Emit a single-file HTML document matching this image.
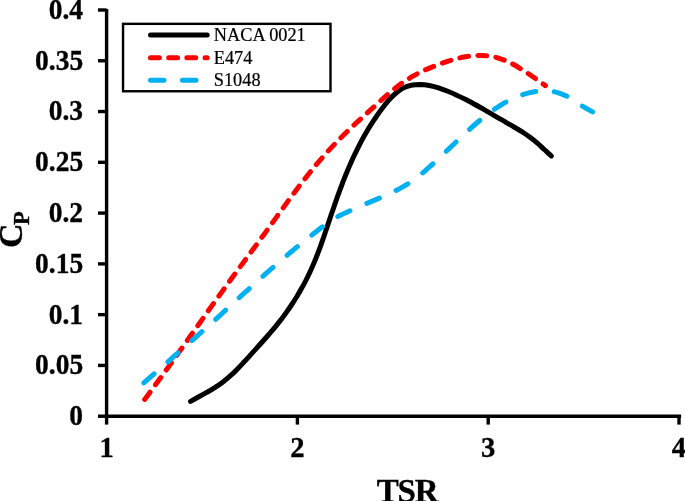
<!DOCTYPE html>
<html><head><meta charset="utf-8"><style>
html,body{margin:0;padding:0;background:#fff;}
body{width:685px;height:501px;overflow:hidden;}
svg{display:block;will-change:transform;}
text{font-family:"Liberation Serif",serif;fill:#000;}
.b text{font-weight:bold;stroke:#000;stroke-width:0.35px;}
</style></head><body>
<svg width="685" height="501" viewBox="0 0 685 501">
<rect width="685" height="501" fill="#fff"/>
<g stroke="#000" stroke-width="3.4" fill="none" stroke-linecap="butt">
<path d="M106.6 9V416.2H681.1" stroke-linejoin="miter"/>
<line x1="98" y1="416.20" x2="106.6" y2="416.20"/><line x1="98" y1="365.43" x2="106.6" y2="365.43"/><line x1="98" y1="314.65" x2="106.6" y2="314.65"/><line x1="98" y1="263.88" x2="106.6" y2="263.88"/><line x1="98" y1="213.10" x2="106.6" y2="213.10"/><line x1="98" y1="162.32" x2="106.6" y2="162.32"/><line x1="98" y1="111.55" x2="106.6" y2="111.55"/><line x1="98" y1="60.77" x2="106.6" y2="60.77"/><line x1="98" y1="10.00" x2="106.6" y2="10.00"/><line x1="106.60" y1="416.2" x2="106.60" y2="424.6"/><line x1="297.40" y1="416.2" x2="297.40" y2="424.6"/><line x1="488.20" y1="416.2" x2="488.20" y2="424.6"/><line x1="679.00" y1="416.2" x2="679.00" y2="424.6"/>
</g>
<g class="b" font-size="28.6"><text transform="translate(83.1,425.10) scale(0.96,1)" text-anchor="end">0</text><text transform="translate(83.1,374.32) scale(0.96,1)" text-anchor="end">0.05</text><text transform="translate(83.1,323.55) scale(0.96,1)" text-anchor="end">0.1</text><text transform="translate(83.1,272.77) scale(0.96,1)" text-anchor="end">0.15</text><text transform="translate(83.1,222.00) scale(0.96,1)" text-anchor="end">0.2</text><text transform="translate(83.1,171.22) scale(0.96,1)" text-anchor="end">0.25</text><text transform="translate(83.1,120.45) scale(0.96,1)" text-anchor="end">0.3</text><text transform="translate(83.1,69.67) scale(0.96,1)" text-anchor="end">0.35</text><text transform="translate(83.1,18.90) scale(0.96,1)" text-anchor="end">0.4</text><text x="106.60" y="456.8" text-anchor="middle">1</text><text x="297.40" y="456.8" text-anchor="middle">2</text><text x="488.20" y="456.8" text-anchor="middle">3</text><text x="679.00" y="456.8" text-anchor="middle">4</text></g>
<g class="b">
<text x="376.8" y="501.5" font-size="33" letter-spacing="-1.2">TSR</text>
<text transform="translate(22.3,248.0) rotate(-90)" font-size="34">C</text>
<text transform="translate(29.4,224.9) rotate(-90)" font-size="22.5">P</text>
</g>
<g fill="none" stroke-linecap="round" stroke-linejoin="round" stroke-width="5">
<path d="M190.6 401.4C192.0 400.6 196.1 398.3 198.8 396.8C201.6 395.3 204.4 393.8 207.1 392.2C209.9 390.7 212.6 389.1 215.2 387.4C217.9 385.7 220.5 383.9 223.0 382.0C225.4 380.1 227.8 378.0 230.2 375.9C232.5 373.9 234.8 371.7 237.0 369.4C239.2 367.2 241.4 364.9 243.5 362.6C245.7 360.3 247.8 357.9 249.9 355.6C252.0 353.2 254.1 350.9 256.2 348.6C258.4 346.2 260.5 343.9 262.6 341.5C264.7 339.2 266.7 336.8 268.8 334.5C270.8 332.1 272.9 329.7 274.9 327.3C276.9 324.8 278.8 322.4 280.8 319.9C282.7 317.4 284.6 314.9 286.4 312.3C288.2 309.8 290.0 307.2 291.8 304.5C293.5 301.9 295.2 299.2 296.9 296.5C298.5 293.8 300.1 291.1 301.6 288.3C303.2 285.6 304.7 282.8 306.1 280.0C307.5 277.2 308.9 274.4 310.2 271.5C311.5 268.7 312.8 265.8 314.0 262.9C315.2 260.0 316.3 257.1 317.5 254.2C318.6 251.3 319.7 248.3 320.8 245.4C321.8 242.4 322.9 239.5 323.9 236.5C324.9 233.5 325.9 230.6 326.9 227.6C327.9 224.6 328.9 221.6 329.9 218.6C330.9 215.6 331.9 212.6 333.0 209.7C334.0 206.7 335.0 203.7 336.1 200.7C337.1 197.7 338.2 194.7 339.3 191.7C340.4 188.8 341.5 185.8 342.6 182.8C343.8 179.9 344.9 176.9 346.1 174.0C347.3 171.1 348.5 168.2 349.8 165.3C351.0 162.4 352.3 159.6 353.6 156.7C354.9 153.9 356.3 151.1 357.7 148.3C359.1 145.5 360.5 142.8 361.9 140.1C363.4 137.3 364.9 134.7 366.5 132.0C368.0 129.3 369.6 126.7 371.3 124.1C373.0 121.4 374.7 118.8 376.6 116.2C378.4 113.5 380.3 110.8 382.3 108.2C384.3 105.6 386.4 102.9 388.6 100.4C390.8 97.9 393.1 95.5 395.5 93.5C397.9 91.4 400.4 89.5 403.1 88.1C405.7 86.8 408.5 85.8 411.3 85.2C414.1 84.5 417.1 84.4 420.1 84.4C423.1 84.5 426.2 84.9 429.3 85.5C432.3 86.1 435.5 86.9 438.5 87.9C441.6 88.9 444.7 90.1 447.7 91.3C450.8 92.5 453.8 93.8 456.7 95.2C459.6 96.5 462.5 97.9 465.3 99.3C468.1 100.8 470.9 102.2 473.6 103.7C476.4 105.2 479.1 106.7 481.8 108.2C484.4 109.8 487.1 111.3 489.8 112.9C492.5 114.4 495.1 116.0 497.8 117.6C500.5 119.2 503.2 120.7 505.9 122.3C508.6 123.9 511.3 125.4 514.0 127.0C516.8 128.6 519.5 130.2 522.2 131.9C524.8 133.6 527.5 135.3 530.0 137.2C532.6 139.1 535.0 141.0 537.4 143.1C539.8 145.1 542.0 147.4 544.3 149.5C546.7 151.7 550.2 154.8 551.3 155.9" stroke="#000"/>
<path d="M144.7 399.4C146.1 397.5 150.5 391.6 153.3 387.7C156.2 383.8 159.1 379.9 161.9 376.0C164.8 372.0 167.6 368.1 170.4 364.2C173.2 360.2 176.1 356.3 178.9 352.3C181.7 348.4 184.5 344.4 187.3 340.5C190.1 336.5 192.9 332.6 195.7 328.6C198.5 324.7 201.3 320.7 204.1 316.8C206.9 312.8 209.7 308.9 212.5 304.9C215.3 301.0 218.2 297.0 221.0 293.1C223.8 289.2 226.7 285.3 229.5 281.4C232.4 277.4 235.3 273.5 238.1 269.6C241.0 265.7 243.9 261.8 246.8 257.9C249.6 254.0 252.5 250.1 255.4 246.2C258.2 242.3 261.1 238.4 264.0 234.5C266.8 230.5 269.7 226.6 272.5 222.7C275.3 218.7 278.2 214.8 281.0 210.9C283.8 206.9 286.7 203.0 289.5 199.1C292.4 195.2 295.3 191.3 298.2 187.5C301.1 183.6 304.1 179.8 307.1 176.0C310.1 172.2 313.1 168.4 316.2 164.7C319.3 161.0 322.5 157.4 325.7 153.8C328.9 150.2 332.3 146.6 335.6 143.1C339.0 139.6 342.4 136.2 345.9 132.8C349.4 129.4 352.9 126.1 356.4 122.8C360.0 119.4 363.6 116.2 367.2 112.9C370.7 109.6 374.4 106.4 378.0 103.2C381.6 100.0 385.2 96.7 388.8 93.6C392.5 90.5 396.2 87.4 400.0 84.6C403.9 81.8 407.8 79.1 412.0 76.7C416.1 74.3 420.5 72.1 424.9 70.1C429.3 68.1 433.9 66.2 438.5 64.5C443.1 62.7 447.9 61.1 452.6 59.8C457.4 58.4 462.2 57.2 466.9 56.5C471.7 55.8 476.5 55.3 481.1 55.4C485.8 55.5 490.5 56.0 495.0 57.1C499.6 58.2 504.0 59.9 508.4 61.9C512.8 63.9 517.0 66.4 521.2 69.0C525.4 71.5 529.5 74.5 533.6 77.3C537.6 80.0 543.4 84.2 545.4 85.6" stroke="#ff0000" stroke-dasharray="8.9 9.28"/>
<path d="M143.8 382.8C145.6 381.2 150.9 376.6 154.5 373.4C158.0 370.3 161.6 367.2 165.2 364.1C168.8 361.0 172.4 357.9 175.9 354.7C179.5 351.6 183.1 348.5 186.6 345.3C190.2 342.2 193.8 339.1 197.3 335.9C200.8 332.7 204.4 329.6 207.9 326.4C211.4 323.2 214.9 320.0 218.4 316.8C221.9 313.6 225.4 310.4 228.9 307.2C232.4 304.0 235.9 300.7 239.4 297.5C242.9 294.3 246.4 291.1 249.9 288.0C253.4 284.8 256.9 281.6 260.5 278.4C264.0 275.3 267.6 272.1 271.1 269.0C274.7 265.9 278.3 262.8 281.9 259.7C285.5 256.6 289.1 253.5 292.8 250.5C296.4 247.4 300.1 244.4 303.8 241.4C307.5 238.5 311.2 235.5 315.0 232.6C318.7 229.7 322.4 226.7 326.3 224.0C330.1 221.3 334.0 218.7 338.1 216.4C342.2 214.2 346.5 212.3 350.8 210.4C355.1 208.4 359.5 206.5 363.9 204.6C368.2 202.8 372.7 201.0 377.1 199.1C381.5 197.2 385.9 195.4 390.2 193.4C394.4 191.3 398.7 189.2 402.8 186.9C406.9 184.5 410.9 181.9 414.7 179.1C418.6 176.3 422.2 173.2 425.9 170.1C429.5 167.1 433.0 163.8 436.5 160.6C439.9 157.4 443.3 154.1 446.7 150.9C450.1 147.6 453.5 144.4 456.9 141.1C460.3 137.9 463.7 134.6 467.2 131.5C470.7 128.3 474.3 125.1 477.9 122.0C481.6 118.9 485.4 115.8 489.2 113.0C493.1 110.1 497.1 107.3 501.2 104.8C505.3 102.3 509.5 100.0 513.8 98.1C518.1 96.2 522.5 94.5 527.0 93.3C531.5 92.1 536.2 91.2 540.9 91.0C545.5 90.8 550.3 90.9 554.9 91.9C559.4 92.9 563.9 94.7 568.1 96.8C572.4 99.0 576.3 102.4 580.4 104.9C584.5 107.4 590.6 110.8 592.7 111.9" stroke="#00b0f0" stroke-dasharray="13.5 18.46"/>
</g>
<rect x="123.05" y="23.85" width="207.45" height="67.4" fill="#fff" stroke="#000" stroke-width="2.4"/>
<g fill="none" stroke-linecap="round" stroke-width="5">
<path d="M150.5 35.1H207.2" stroke="#000"/>
<path d="M150.5 57.65H207.2" stroke="#ff0000" stroke-dasharray="8.9 9.28"/>
<path d="M150.5 80.2H207.2" stroke="#00b0f0" stroke-dasharray="13.5 18.46"/>
</g>
<g font-size="18.3" stroke="#000" stroke-width="0.22">
<text x="213.8" y="41.1">NACA 0021</text>
<text x="213.8" y="63.6">E474</text>
<text x="213.8" y="85.9">S1048</text>
</g>
</svg>
</body></html>
